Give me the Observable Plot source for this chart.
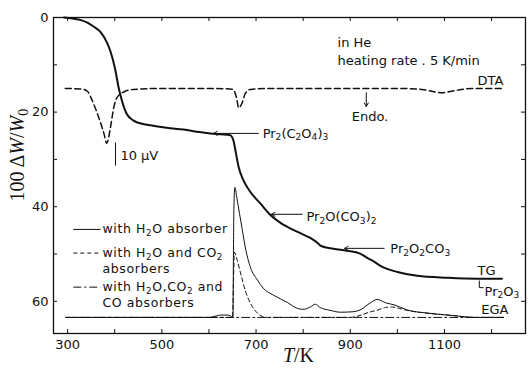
<!DOCTYPE html>
<html><head><meta charset="utf-8">
<script src="https://cdn.jsdelivr.net/npm/d3@7"></script>
<script src="https://cdn.jsdelivr.net/npm/@observablehq/plot@0.6"></script>
<style>body{margin:0;background:#fff}</style>
</head><body><div id="chart"></div>
<script>
// ---- data (T in K, 100 ΔW/W0) ----
const TG = [[292,0],[310,0.2],[330,0.6],[342,1.1],[355,1.9],[370,3.1],[382,5],[391,7.2],[401,11],[408,14.7],[415,17.5],[425,20.3],[440,21.8],[460,22.5],[476,22.8],[510,23.3],[546,23.7],[580,24.2],[603,24.5],[625,24.7],[645,24.9],[652,26],[656,28],[663,31.6],[673,34.4],[688,36.9],[709,39.3],[730,41.7],[758,43.8],[794,45.6],[815,46.6],[830,47.6],[838,48.3],[864,48.9],[893,49.3],[921,49.9],[936,50.8],[949,51.5],[966,52.6],[1000,53.8],[1042,54.6],[1106,55.0],[1169,55.2],[1222,55.2]];
const DTA = [[295,15.0],[330,15.1],[342,15.6],[352,17.5],[363,20.3],[377,24.5],[383,26.6],[391,23.2],[398,19],[405,16.9],[418,15.8],[440,15.2],[500,15.0],[600,15.0],[645,15.1],[652,15.3],[659,17.2],[663,19.1],[671,17.9],[677,16.1],[688,15.2],[720,15.0],[850,15.0],[1000,15.0],[1052,15.2],[1073,15.6],[1094,15.9],[1115,15.6],[1136,15.2],[1158,15.0],[1224,15.0]];
const EGA_H2O = [[296,63.4],[600,63.4],[615,63.1],[625,62.9],[640,62.9],[648,63.2],[651,63.3],[652,50],[653,40],[655,35.9],[659,38],[665,41.5],[671,45],[677,48.5],[688,52.8],[703,55.5],[715,57.2],[737,58.7],[766,60.2],[788,61.5],[800,61.7],[815,61.2],[826,60.6],[836,61.3],[857,61.9],[879,62.3],[906,62.2],[923,61.7],[940,60.5],[957,59.6],[975,60.3],[995,60.8],[1020,61.8],[1065,62.5],[1118,63.0],[1165,63.4],[1225,63.4]];
const EGA_H2O_CO2 = [[296,63.4],[650,63.4],[652,56],[654,49.6],[660,51.3],[667,54],[677,57.7],[688,60.4],[703,62.5],[713,63.2],[722,63.4],[900,63.4],[923,62.9],[940,62.3],[957,61.9],[975,61.3],[990,61.2],[1000,61.4],[1020,61.9],[1063,62.5],[1118,63.0],[1160,63.4],[1225,63.4]];
const EGA_ALL = [[296,63.4],[650,63.4],[1000,63.4],[1225,63.4]];

const xTickLabels = [300, 500, 700, 900, 1100];
const xTicks = [300, 400, 500, 600, 700, 800, 900, 1000, 1100, 1200];
const yTickLabels = [0, 20, 40, 60];
const yTicks = [0, 10, 20, 30, 40, 50, 60];

// annotations: [T, value, text]
const notes = [
  [873, 5.3, "in He"],
  [873, 9.1, "heating rate . 5 K/min"],
  [903, 21.1, "Endo."],
  [412, 29.2, "10 μV"],
  [714, 24.5, "Pr_{2}(C_{2}O_{4})_{3}"],
  [807, 42.1, "Pr_{2}O(CO_{3})_{2}"],
  [985, 49.0, "Pr_{2}O_{2}CO_{3}"],
  [1170, 53.5, "TG"],
  [1185, 57.9, "Pr_{2}O_{3}"],
  [1178, 61.7, "EGA"]
];
const endNotes = [[1225, 13.3, "DTA"]];
const arrows = [[705, 24.5, 610, 24.5], [798, 41.6, 733, 41.6], [972, 48.8, 888, 48.8], [934, 15.9, 934, 18.8]];
const segments = [[401.6, 26.4, 401.6, 31.3], [1174, 55.6, 1174, 57.1], [1174, 57.1, 1183, 57.1]];
const legendText = [
  [374, 44.8, "with H_{2}O absorber"],
  [374, 49.8, "with H_{2}O and CO_{2}"],
  [374, 53.2, "absorbers"],
  [374, 57.0, "with H_{2}O,CO_{2} and"],
  [374, 60.35, "CO absorbers"]
];
const legendSamples = [[312, 370, 44.8], [312, 370, 49.8], [312, 370, 57.0]];
const dashes = [null, "4,3", "8,3,2,3"];
const yTitle = [[29.2, "100 Δ*W*/*W*_{0}"]];
const xTitle = [[790, "*T*/K"]];

const toXY = a => a.map(([x, y]) => ({x, y}));
const ink = "#111";
const frameW = 472, frameH = 316, tk = 4;

const chart = Plot.plot({
  width: 528, height: 371,
  marginLeft: 53, marginRight: 3, marginTop: 17, marginBottom: 38,
  x: {domain: [270, 1272]},
  y: {domain: [0, 66.8], reverse: true},
  style: {fontFamily: "DejaVu Sans, sans-serif", background: "#fff", color: ink},
  marks: [
    Plot.frame({stroke: ink, strokeWidth: 1.3}),
    Plot.ruleX(xTicks, {stroke: ink, insetTop: frameH - tk}),
    Plot.ruleX(xTicks, {stroke: ink, insetBottom: frameH - tk}),
    Plot.ruleY(yTicks, {stroke: ink, insetRight: frameW - tk}),
    Plot.ruleY(yTicks, {stroke: ink, insetLeft: frameW - tk}),
    Plot.axisX({ticks: xTickLabels, tickSize: 0, tickPadding: 6, fontSize: 13, label: null, tickFormat: d => String(d)}),
    Plot.axisY({ticks: yTickLabels, tickSize: 0, tickPadding: 5, fontSize: 13, label: null}),
    Plot.line(toXY(EGA_ALL), {x: "x", y: "y", stroke: ink, strokeWidth: 1, strokeDasharray: "8,3,2,3"}),
    Plot.line(toXY(EGA_H2O_CO2), {x: "x", y: "y", stroke: ink, strokeWidth: 1, strokeDasharray: "4,3", curve: "monotone-x"}),
    Plot.line(toXY(EGA_H2O), {x: "x", y: "y", stroke: ink, strokeWidth: 1, curve: "monotone-x"}),
    Plot.line(toXY(DTA), {x: "x", y: "y", stroke: ink, strokeWidth: 1.5, strokeDasharray: "6,3.5", curve: "monotone-x"}),
    Plot.line(toXY(TG), {x: "x", y: "y", stroke: ink, strokeWidth: 2, curve: "monotone-x"}),
    Plot.arrow(arrows, {x1: d => d[0], y1: d => d[1], x2: d => d[2], y2: d => d[3], stroke: ink, strokeWidth: 1, headLength: 6}),
    Plot.link(segments, {x1: d => d[0], y1: d => d[1], x2: d => d[2], y2: d => d[3], stroke: ink, strokeWidth: 1}),
    ...legendSamples.map((s, i) => Plot.link([s], {x1: d => d[0], x2: d => d[1], y1: d => d[2], y2: d => d[2], stroke: ink, strokeWidth: 1, strokeDasharray: dashes[i]})),
    Plot.text(notes, {x: d => d[0], y: d => d[1], text: d => d[2], textAnchor: "start", fontSize: 13, fill: ink}),
    Plot.text(endNotes, {x: d => d[0], y: d => d[1], text: d => d[2], textAnchor: "end", fontSize: 13, fill: ink}),
    Plot.text(legendText, {x: d => d[0], y: d => d[1], text: d => d[2], textAnchor: "start", fontSize: 12.5, fill: ink, className: "legend-text"}),
    Plot.text(yTitle, {y: d => d[0], text: d => d[1], frameAnchor: "left", dx: -36, rotate: -90, fontSize: 20, fontFamily: "Liberation Serif, serif", fill: ink}),
    Plot.text(xTitle, {x: d => d[0], text: d => d[1], frameAnchor: "bottom", dy: 28, fontSize: 20, fontFamily: "Liberation Serif, serif", fill: ink})
  ]
});
document.getElementById("chart").appendChild(chart);
chart.querySelectorAll(".legend-text").forEach(g => g.setAttribute("letter-spacing", "0.6"));

// rich text: _{sub} and *italic*
const NS = "http://www.w3.org/2000/svg";
chart.querySelectorAll("text").forEach(t => {
  const s = t.textContent;
  if (!/[_*]/.test(s)) return;
  const fs = parseFloat(getComputedStyle(t).fontSize) || 13;
  const parts = s.split(/(_\{[^}]*\}|\*[^*]*\*)/).filter(p => p);
  t.textContent = "";
  let shifted = false;
  for (const p of parts) {
    const ts = document.createElementNS(NS, "tspan");
    if (p.startsWith("_{")) {
      ts.textContent = p.slice(2, -1);
      ts.setAttribute("font-size", (fs * 0.7).toFixed(1));
      if (!shifted) { ts.setAttribute("dy", (fs * 0.22).toFixed(1)); shifted = true; }
    } else {
      if (p.startsWith("*")) { ts.textContent = p.slice(1, -1); ts.setAttribute("font-style", "italic"); }
      else ts.textContent = p;
      if (shifted) { ts.setAttribute("dy", (-fs * 0.22).toFixed(1)); shifted = false; }
    }
    t.appendChild(ts);
  }
});

// centre the rotated y title on its intended position
const yt = [...chart.querySelectorAll("text")].find(t => t.textContent.startsWith("100"));
if (yt) {
  const r = yt.getBoundingClientRect(), sr = chart.getBoundingClientRect();
  const cy = r.top + r.height / 2 - sr.top;
  const want = chart.scale("y").apply(yTitle[0][0]);
  const g = yt.parentNode;
  const tr = g.getAttribute("transform") || "";
  g.setAttribute("transform", `translate(0,${(want - cy).toFixed(1)}) ${tr}`);
}
</script></body></html>
